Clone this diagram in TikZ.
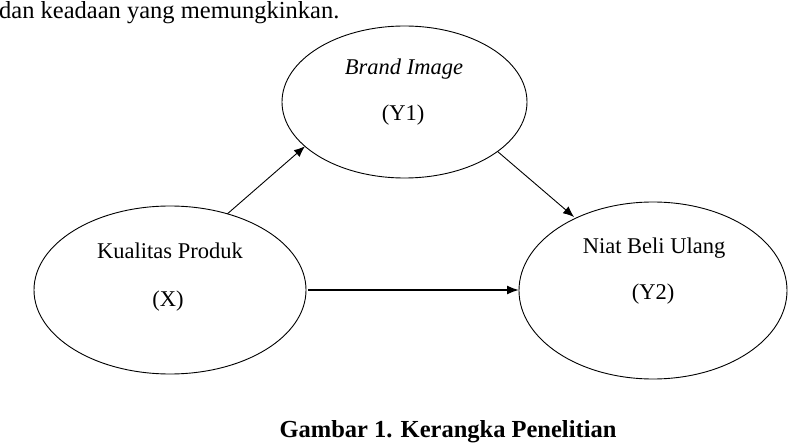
\documentclass[tikz,border=0pt]{standalone}
\usepackage{fontspec}
\setmainfont{Liberation Serif}
\usetikzlibrary{shapes.geometric,arrows.meta}

\begin{document}
\begin{tikzpicture}[x=1pt,y=-1pt,
  var/.style={draw, ellipse, line width=0.9pt, inner sep=0pt, outer sep=0pt},
  lbl/.style={anchor=base, inner sep=0pt, font=\fontsize{22.5}{27}\selectfont},
  link/.style={line width=0.9pt, -{Latex[length=11pt,width=9pt]}}]
\useasboundingbox (0,0) rectangle (789,443);

\node[anchor=base west, inner sep=0pt, font=\fontsize{24.5}{29}\selectfont] (intro) at (-1,18.5) {dan keadaan yang memungkinkan.};

\node[var, minimum width=245pt, minimum height=152pt] (bi) at (404.5,102) {};
\node[var, minimum width=272pt, minimum height=168pt] (kp) at (170,290) {};
\node[var, minimum width=268pt, minimum height=177pt] (nbu) at (653,290.5) {};

\node[lbl] (bi1) at (404,75) {\itshape Brand Image};
\node[lbl] (bi2) at (403,121) {(Y1)};
\node[lbl] (kp1) at (170,259) {Kualitas Produk};
\node[lbl] (kp2) at (168,307) {(X)};
\node[lbl] (nbu1) at (654,254) {Niat Beli Ulang};
\node[lbl] (nbu2) at (653,300) {(Y2)};

\draw[link] (kp.53) -- (bi.204);
\draw[link, shorten >=2pt] (bi.332) -- (nbu.137);
\draw[link, line width=1.6pt, -{Latex[length=12pt,width=9pt]}, shorten <=2pt] (kp.east) -- (kp.east -| nbu.west);

\node[anchor=base, inner sep=0pt, font=\bfseries\fontsize{24.5}{29}\selectfont] (caption) at (448,437.5) {Gambar 1. Kerangka Penelitian};

\end{tikzpicture}
\end{document}
